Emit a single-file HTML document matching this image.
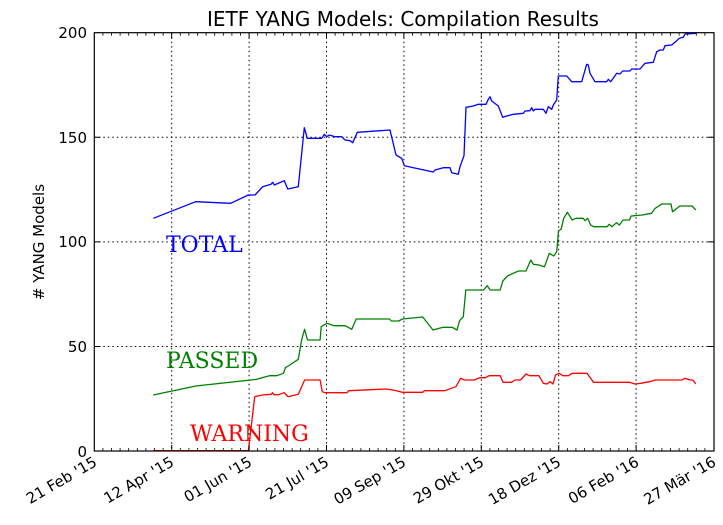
<!DOCTYPE html>
<html><head><meta charset="utf-8"><style>
html,body{margin:0;padding:0;background:#fff;}
svg{display:block;font-family:"DejaVu Sans","Liberation Sans",sans-serif;}
</style></head><body>
<svg width="723" height="525" viewBox="0 0 723 525" xmlns="http://www.w3.org/2000/svg">
<rect width="723" height="525" fill="#fff"/>
<text x="403" y="26" font-size="20" text-anchor="middle">IETF YANG Models: Compilation Results</text>
<g stroke="#000" stroke-width="1" stroke-dasharray="1.5,3" fill="none">
<line x1="171.7" y1="32.7" x2="171.7" y2="451"/><line x1="249.1" y1="32.7" x2="249.1" y2="451"/>
<line x1="326.5" y1="32.7" x2="326.5" y2="451"/><line x1="403.9" y1="32.7" x2="403.9" y2="451"/>
<line x1="481.3" y1="32.7" x2="481.3" y2="451"/><line x1="558.7" y1="32.7" x2="558.7" y2="451"/>
<line x1="636.1" y1="32.7" x2="636.1" y2="451"/>
<line x1="94.3" y1="137.3" x2="714" y2="137.3"/><line x1="94.3" y1="241.9" x2="714" y2="241.9"/>
<line x1="94.3" y1="346.5" x2="714" y2="346.5"/>
</g>
<g fill="none" stroke-width="1.3" stroke-linejoin="round">
<polyline stroke="#0000ff" points="153.3,218.3 195.7,201.7 230.7,203.3 248.3,195 255,195 262.7,186.7 271,184.3 272.7,182.3 274.3,185 284.3,180.7 287.7,189 298.3,186.7 304.3,127.7 307.3,138.3 321.7,138.3 324.3,134.3 326.7,136.7 329.3,135 335,136.7 341.7,136.7 345,140 350,140.7 352.7,142.7 357.3,132.3 390,130 396,155 401.7,158.3 404.3,165.7 433.3,172 435,170 443.3,167.7 450,167.7 451.7,172.7 458.3,174.3 460,166.7 464,155.7 466,107.3 473.3,106 478.3,104.3 486,104.3 488.3,99.3 490,96.7 491.7,101 498.3,106 502.7,117.3 506.7,116 513.3,114.3 523.3,113.3 525,111 530,110.7 531.7,107.7 533.3,111 535,109.3 543.3,109.3 546,113.3 548.3,106.7 551.7,109.3 553.3,105 556.7,100 558.3,76 566.7,76 571.7,81.7 581.7,81.7 586.7,64.3 588.3,65 590,73.3 595,81.7 606.7,81.7 608.3,79.3 610.7,81.7 616.7,73.3 620,74 622.7,71 630,71 631.7,69 640,69 645,63.3 653.3,62.3 656.7,51.7 660,50 663.3,50 665,45.7 671.7,45 676.7,40.7 679.3,38.3 683.3,37.3 685,34 696,33.3"/>
<polyline stroke="#008000" points="153.2,395 195.7,386 251,380 256.6,379.3 269.5,375.7 276.9,375.7 283.5,373.3 285.4,367.7 289.8,365 298.3,359.3 301.6,340 304.6,329.3 307.5,340 320.1,340 321.2,326.7 326.7,323.3 334.1,325.7 345.2,325.7 351.8,329.3 356.2,319 389.5,319 391.3,321 398.7,321 402.4,319 422.7,317 433,330 443,327.3 452.2,327.3 457,330 459.6,320.7 463.3,316.7 465.8,290 483.6,290 487.2,285.7 490.2,290 500.2,290 502.8,281 507.5,276 513.1,273.3 518.6,271 526,271 530.8,260 533.4,264.3 538.9,265 544.5,266.7 549.3,253.3 553.7,256 556.7,251.7 558.5,230.7 561.1,229.3 563.7,218.3 567.4,212.3 572.2,220 575.8,218.3 583.2,218.3 585.1,220.7 587.7,218.3 590.6,225 593.6,226.7 607.2,226.7 609.1,224.3 612,226.7 616.5,222.7 619.4,225 623.1,220 629.4,220 631.2,216 642.3,215 651.5,213.3 655.2,208.3 661.8,204 671,204 672.5,211.7 679.9,206 692.1,206 695.8,210"/>
<polyline stroke="#ff0000" points="153.2,450.7 248.4,450.7 254.7,396.7 262.1,395 271.3,394.3 272.4,392.7 273.9,394.7 278.7,394.7 284.2,392.7 288,396.7 298.3,394.3 304.6,380 320.1,380 322.3,391.7 324.9,392.7 347,392.7 348.8,390.7 385.8,389 393.1,390 402.4,392.3 422.7,392.3 424.5,390.7 444.8,390.7 455.9,386.7 460.7,378.3 464.4,380 474.3,380 479.9,377.7 485.4,377.7 489.1,375.7 500.2,375.7 503.1,382.3 511.2,382.3 515,380 520.5,380 526,374 529.7,375.7 538.9,375.7 543.4,383.3 547,384 550,381.7 553,384 555.5,375 559.2,373.3 562.9,375.7 568.5,375.7 572.2,373.3 587,373.3 593.6,382.3 629.4,382.3 634.9,384 640.5,383.3 649.6,381.7 655.2,380 682.1,380 684.7,378.3 690.3,380 692.9,380 695.8,384"/>
</g>
<g font-family="'DejaVu Serif','Liberation Serif',serif" font-size="22">
<text x="166" y="252" fill="#0000ff">TOTAL</text>
<text x="166" y="368" fill="#008000">PASSED</text>
<text x="190" y="441" fill="#ff0000">WARNING</text>
</g>
<rect x="94.3" y="32.7" width="619.7" height="418.3" fill="none" stroke="#000" stroke-width="1.2"/>
<g stroke="#000" stroke-width="1">
<path d="M171.7,451v-6M249.1,451v-6M326.5,451v-6M403.9,451v-6M481.3,451v-6M558.7,451v-6M636.1,451v-6M171.7,32.7v6M249.1,32.7v6M326.5,32.7v6M403.9,32.7v6M481.3,32.7v6M558.7,32.7v6M636.1,32.7v6M94.3,137.3h6M94.3,241.9h6M94.3,346.5h6M714,137.3h-6M714,241.9h-6M714,346.5h-6"/>
<path stroke-width="0.8" d="M102.9,451v-3M111.5,451v-3M120.1,451v-3M128.7,451v-3M137.3,451v-3M145.9,451v-3M154.5,451v-3M163.1,451v-3M180.3,451v-3M188.9,451v-3M197.5,451v-3M206.1,451v-3M214.7,451v-3M223.3,451v-3M231.9,451v-3M240.5,451v-3M257.7,451v-3M266.3,451v-3M274.9,451v-3M283.5,451v-3M292.1,451v-3M300.7,451v-3M309.3,451v-3M317.9,451v-3M335.1,451v-3M343.7,451v-3M352.3,451v-3M360.9,451v-3M369.5,451v-3M378.1,451v-3M386.7,451v-3M395.3,451v-3M412.5,451v-3M421.1,451v-3M429.7,451v-3M438.3,451v-3M446.9,451v-3M455.5,451v-3M464.1,451v-3M472.7,451v-3M489.9,451v-3M498.5,451v-3M507.1,451v-3M515.7,451v-3M524.3,451v-3M532.9,451v-3M541.5,451v-3M550.1,451v-3M567.3,451v-3M575.9,451v-3M584.5,451v-3M593.1,451v-3M601.7,451v-3M610.3,451v-3M618.9,451v-3M627.5,451v-3M644.7,451v-3M653.3,451v-3M661.9,451v-3M670.5,451v-3M679.1,451v-3M687.7,451v-3M696.3,451v-3M704.9,451v-3"/>
<path stroke-width="0.8" d="M102.9,32.7v3M111.5,32.7v3M120.1,32.7v3M128.7,32.7v3M137.3,32.7v3M145.9,32.7v3M154.5,32.7v3M163.1,32.7v3M180.3,32.7v3M188.9,32.7v3M197.5,32.7v3M206.1,32.7v3M214.7,32.7v3M223.3,32.7v3M231.9,32.7v3M240.5,32.7v3M257.7,32.7v3M266.3,32.7v3M274.9,32.7v3M283.5,32.7v3M292.1,32.7v3M300.7,32.7v3M309.3,32.7v3M317.9,32.7v3M335.1,32.7v3M343.7,32.7v3M352.3,32.7v3M360.9,32.7v3M369.5,32.7v3M378.1,32.7v3M386.7,32.7v3M395.3,32.7v3M412.5,32.7v3M421.1,32.7v3M429.7,32.7v3M438.3,32.7v3M446.9,32.7v3M455.5,32.7v3M464.1,32.7v3M472.7,32.7v3M489.9,32.7v3M498.5,32.7v3M507.1,32.7v3M515.7,32.7v3M524.3,32.7v3M532.9,32.7v3M541.5,32.7v3M550.1,32.7v3M567.3,32.7v3M575.9,32.7v3M584.5,32.7v3M593.1,32.7v3M601.7,32.7v3M610.3,32.7v3M618.9,32.7v3M627.5,32.7v3M644.7,32.7v3M653.3,32.7v3M661.9,32.7v3M670.5,32.7v3M679.1,32.7v3M687.7,32.7v3M696.3,32.7v3M704.9,32.7v3"/>
</g>
<g font-size="15" text-anchor="end">
<text x="87" y="457">0</text><text x="87" y="352">50</text><text x="87" y="247">100</text>
<text x="87" y="143">150</text><text x="87" y="38">200</text>
</g>
<text transform="translate(44,242) rotate(-90)" font-size="15" text-anchor="middle"># YANG Models</text>
<g font-size="15" text-anchor="end">
<text transform="translate(98,465) rotate(-30)">21 Feb '15</text>
<text transform="translate(175,465) rotate(-30)">12 Apr '15</text>
<text transform="translate(253,465) rotate(-30)">01 Jun '15</text>
<text transform="translate(330,465) rotate(-30)">21 Jul '15</text>
<text transform="translate(407,465) rotate(-30)">09 Sep '15</text>
<text transform="translate(485,465) rotate(-30)">29 Okt '15</text>
<text transform="translate(562,465) rotate(-30)">18 Dez '15</text>
<text transform="translate(640,465) rotate(-30)">06 Feb '16</text>
<text transform="translate(717,465) rotate(-30)">27 Mär '16</text>
</g>
</svg>
</body></html>
